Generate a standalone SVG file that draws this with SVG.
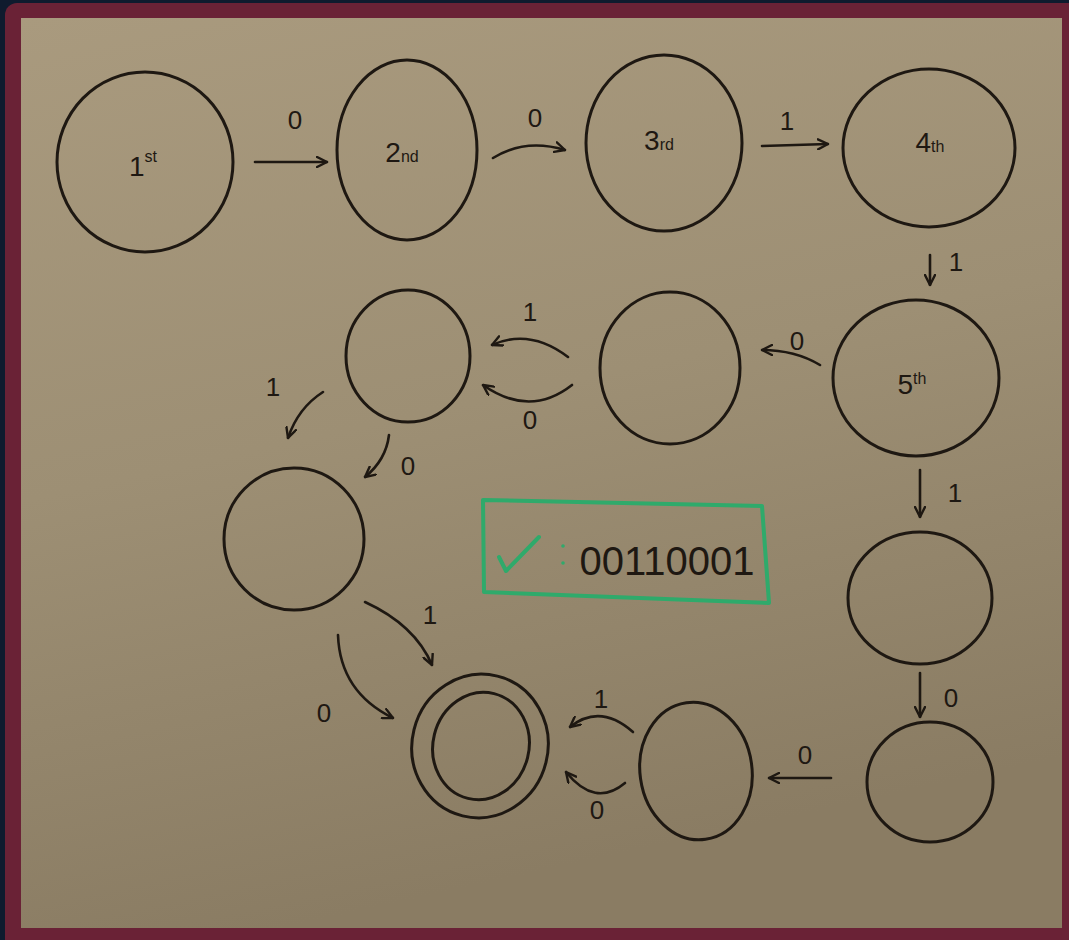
<svg xmlns="http://www.w3.org/2000/svg" width="1069" height="940" viewBox="0 0 1069 940">
<defs>
<linearGradient id="wb" x1="0" y1="0" x2="0.25" y2="1">
<stop offset="0" stop-color="#a99a7e"/>
<stop offset="0.5" stop-color="#9d8f74"/>
<stop offset="1" stop-color="#8a7c63"/>
</linearGradient>
<marker id="ah" viewBox="0 0 12 12" refX="11" refY="6" markerWidth="12" markerHeight="12" markerUnits="userSpaceOnUse" orient="auto">
<path d="M1,1 L11,6 L1,11" fill="none" stroke="#1e1812" stroke-width="2.4" stroke-linecap="round" stroke-linejoin="round"/>
</marker>
<style>
.st{fill:none;stroke:#1e1812;stroke-width:3}
.cn{fill:none;stroke:#1e1812;stroke-width:2.6;stroke-linecap:round;marker-end:url(#ah)}
.lb{font-family:"Liberation Sans",Arial,sans-serif;font-size:26px;fill:#1e1812;text-anchor:middle}
.nm{font-family:"Liberation Sans",Arial,sans-serif;font-size:28px;fill:#1e1812;text-anchor:middle}
.sp{font-size:16px}
</style>
</defs>
<rect x="0" y="0" width="1069" height="940" fill="#0f1b2e"/>
<rect x="5" y="3" width="1080" height="950" rx="12" fill="#6a2236"/>
<rect x="21" y="18" width="1041" height="910" fill="url(#wb)"/>

<g id="n1"><ellipse class="st" cx="145" cy="162" rx="88" ry="90"/><text class="nm" x="143" y="176">1<tspan class="sp" dy="-14">st</tspan></text></g>
<g id="n2"><ellipse class="st" cx="407" cy="150" rx="70" ry="90"/><text class="nm" x="402" y="162">2<tspan class="sp">nd</tspan></text></g>
<g id="n3"><ellipse class="st" cx="664" cy="143" rx="78" ry="88"/><text class="nm" x="659" y="150">3<tspan class="sp">rd</tspan></text></g>
<g id="n4"><ellipse class="st" cx="929" cy="148" rx="86" ry="79"/><text class="nm" x="930" y="152">4<tspan class="sp">th</tspan></text></g>
<g id="n5"><ellipse class="st" cx="916" cy="378" rx="83" ry="78"/><text class="nm" x="912" y="394">5<tspan class="sp" dy="-10">th</tspan></text></g>
<g id="nA"><ellipse class="st" cx="670" cy="368" rx="70" ry="76"/></g>
<g id="nB"><ellipse class="st" cx="408" cy="356" rx="62" ry="66"/></g>
<g id="nC"><ellipse class="st" cx="294" cy="539" rx="70" ry="71"/></g>
<g id="nD"><ellipse class="st" cx="920" cy="598" rx="72" ry="66"/></g>
<g id="nE"><ellipse class="st" cx="930" cy="782" rx="63" ry="60"/></g>
<g id="nF"><ellipse class="st" cx="696" cy="771" rx="56" ry="69" transform="rotate(-8 696 771)"/></g>
<g id="nG"><ellipse class="st" cx="480" cy="746" rx="68" ry="72" transform="rotate(14 480 746)"/><ellipse class="st" cx="481" cy="746" rx="48" ry="54" transform="rotate(14 481 746)"/></g>

<g id="box">
<path d="M483,500 L762,506 L769,603 L484,592 Z" fill="none" stroke="#2faa6b" stroke-width="4" stroke-linejoin="round"/>
<path d="M499,557 L506,571 L539,537" fill="none" stroke="#2faa6b" stroke-width="4" stroke-linecap="round" stroke-linejoin="round"/>
<circle cx="563" cy="546" r="1.8" fill="#2faa6b"/>
<circle cx="563" cy="563" r="1.8" fill="#2faa6b"/>
<text x="667" y="575" font-family="'Liberation Sans',Arial,sans-serif" font-size="40" fill="#1e1812" text-anchor="middle">00110001</text>
</g>

<g id="connectors">
<path class="cn" d="M255,162 L327,162"/>
<path class="cn" d="M493,158 Q525,138 565,150"/>
<path class="cn" d="M762,146 L828,144"/>
<path class="cn" d="M930,255 L930,285"/>
<path class="cn" d="M820,365 Q795,350 762,350"/>
<path class="cn" d="M568,357 Q530,328 492,345"/>
<path class="cn" d="M572,385 Q530,418 483,385"/>
<path class="cn" d="M323,392 Q298,408 288,438"/>
<path class="cn" d="M389,435 Q386,460 365,477"/>
<path class="cn" d="M920,470 L920,517"/>
<path class="cn" d="M920,673 L920,717"/>
<path class="cn" d="M831,778 L769,778"/>
<path class="cn" d="M633,732 Q600,703 570,727"/>
<path class="cn" d="M625,783 Q595,808 566,772"/>
<path class="cn" d="M365,602 Q415,625 432,665"/>
<path class="cn" d="M338,635 Q340,692 393,718"/>
</g>
<g id="labels">
<text class="lb" x="295" y="129">0</text>
<text class="lb" x="535" y="127">0</text>
<text class="lb" x="787" y="130">1</text>
<text class="lb" x="956" y="271">1</text>
<text class="lb" x="797" y="350">0</text>
<text class="lb" x="530" y="321">1</text>
<text class="lb" x="530" y="429">0</text>
<text class="lb" x="273" y="396">1</text>
<text class="lb" x="408" y="475">0</text>
<text class="lb" x="955" y="502">1</text>
<text class="lb" x="951" y="707">0</text>
<text class="lb" x="805" y="764">0</text>
<text class="lb" x="601" y="708">1</text>
<text class="lb" x="597" y="819">0</text>
<text class="lb" x="430" y="624">1</text>
<text class="lb" x="324" y="722">0</text>
</g>
</svg>
